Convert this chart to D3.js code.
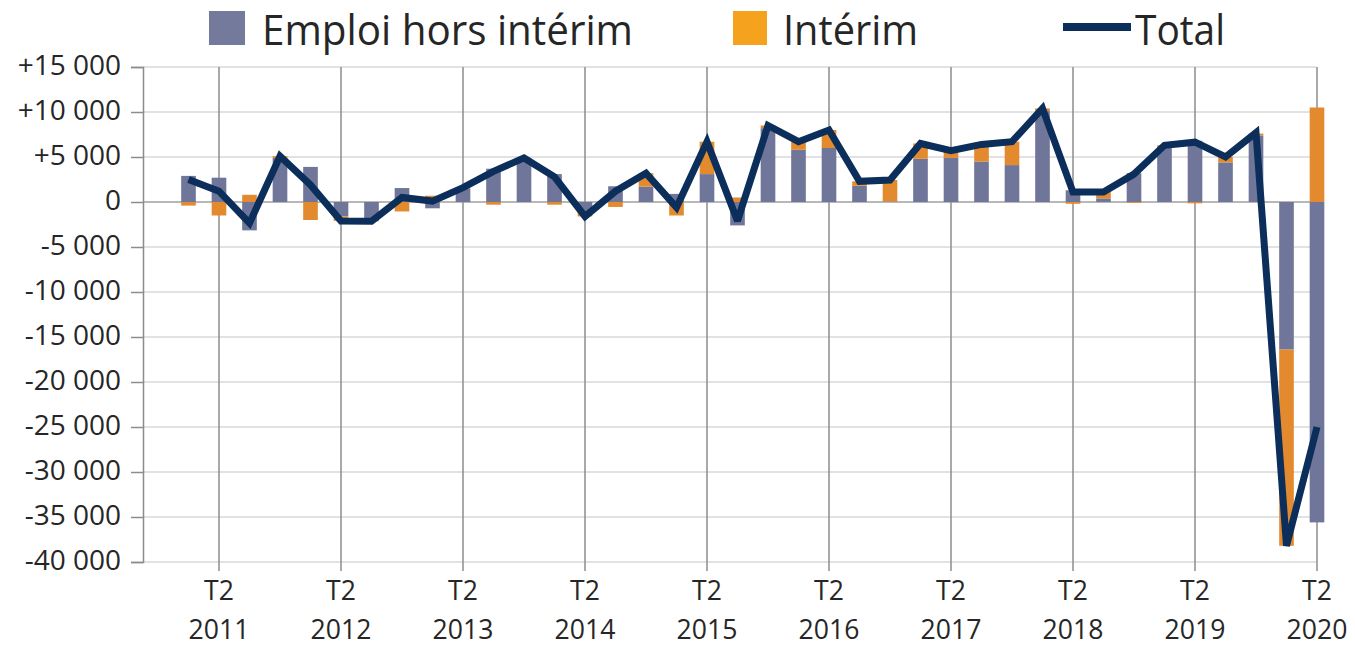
<!DOCTYPE html>
<html><head><meta charset="utf-8">
<script src="https://cdn.jsdelivr.net/npm/d3@7"></script>
<style>
html,body{margin:0;padding:0;background:#fff;}
svg text{font-family:"Open Sans",sans-serif;fill:#262626;}
</style></head>
<body><svg id="c" width="1355" height="647"></svg>
<script>
const quarters = ["2011 T1","2011 T2","2011 T3","2011 T4","2012 T1","2012 T2","2012 T3","2012 T4",
"2013 T1","2013 T2","2013 T3","2013 T4","2014 T1","2014 T2","2014 T3","2014 T4",
"2015 T1","2015 T2","2015 T3","2015 T4","2016 T1","2016 T2","2016 T3","2016 T4",
"2017 T1","2017 T2","2017 T3","2017 T4","2018 T1","2018 T2","2018 T3","2018 T4",
"2019 T1","2019 T2","2019 T3","2019 T4","2020 T1","2020 T2"];
const horsInterim = [2900,2700,-3150,4900,3900,-1600,-2000,1550,-700,1500,3700,4900,3100,-1000,1750,1700,900,3100,-2600,8200,5800,6000,1800,50,4800,4900,4500,4100,10100,1300,400,3200,6100,6800,4400,7400,-16400,-35600];
const interim = [-400,-1500,800,200,-2000,-500,-150,-1050,700,100,-300,0,-300,-600,-550,1500,-1500,3600,500,300,900,2000,500,2400,1700,800,1900,2600,300,-200,700,-100,200,-150,600,200,-21800,10500];
const total = [2500,1200,-2350,5100,1900,-2100,-2150,500,100,1600,3400,4900,2800,-1600,1200,3200,-600,6700,-2100,8500,6700,8000,2300,2450,6500,5700,6400,6700,10400,1100,1100,3100,6300,6650,5000,7700,-38200,-25000];
const yTicks = [15000,10000,5000,0,-5000,-10000,-15000,-20000,-25000,-30000,-35000,-40000];
const yTickLabels = ["+15 000","+10 000","+5 000","0","-5 000","-10 000","-15 000","-20 000","-25 000","-30 000","-35 000","-40 000"];
const xTickQuarters = ["2011 T2","2012 T2","2013 T2","2014 T2","2015 T2","2016 T2","2017 T2","2018 T2","2019 T2","2020 T2"];
const seriesNames = ["Emploi hors intérim","Intérim","Total"];

const svg = d3.select("#c");
const pLeft = 143, pRight = 1316.5, pTop = 67, pBottom = 562;
const step = 30.5;
const x = d3.scaleBand().domain(quarters).range([188.5 - step/2, 188.5 - step/2 + step*38])
  .paddingInner(0.52).paddingOuter(0.26);
const xc = q => x(q) + x.bandwidth()/2;
const y = d3.scaleLinear().domain([-40000, 15000]).range([pBottom, pTop]);

// horizontal gridlines
svg.append("g").selectAll("line").data(yTicks).join("line")
  .attr("x1", pLeft).attr("x2", pRight)
  .attr("y1", d => y(d)).attr("y2", d => y(d))
  .attr("stroke", d => d === 0 ? "#a0a0a0" : "#d9d9d9").attr("stroke-width", 1.5);

// vertical gridlines at T2
svg.append("g").selectAll("line").data(xTickQuarters).join("line")
  .attr("x1", d => xc(d)).attr("x2", d => xc(d))
  .attr("y1", pTop).attr("y2", pBottom + 9)
  .attr("stroke", "#8c8c8c").attr("stroke-width", 1.5);

// y axis
const yAxis = d3.axisLeft(y).tickValues(yTicks).tickSize(12).tickPadding(10)
  .tickFormat((d,i) => yTickLabels[i]);
const ga = svg.append("g").attr("transform", `translate(${pLeft},0)`).call(yAxis);
ga.select(".domain").attr("stroke", "#8c8c8c").attr("stroke-width", 1.5);
ga.selectAll(".tick line").attr("stroke", "#8c8c8c").attr("stroke-width", 1.5);
ga.selectAll(".tick text").attr("font-size", 28).attr("font-family", "Open Sans").attr("fill", "#262626").attr("dy", "0.28em");

// stacked bars
const rows = quarters.map((q,i) => ({q, a: horsInterim[i], b: interim[i]}));
const stack = d3.stack().keys(["a","b"]).offset(d3.stackOffsetDiverging);
const layers = stack(rows);
const colors = ["#6f7699", "#e38a2f"];
svg.append("g").selectAll("g").data(layers).join("g")
  .attr("fill", (d,i) => colors[i])
  .selectAll("rect").data(d => d).join("rect")
  .attr("x", d => x(d.data.q)).attr("width", x.bandwidth())
  .attr("y", d => y(Math.max(d[0], d[1])))
  .attr("height", d => Math.abs(y(d[0]) - y(d[1])));

// total line
const line = d3.line().x((d,i) => xc(quarters[i])).y(d => y(d));
svg.append("path").datum(total).attr("d", line)
  .attr("fill", "none").attr("stroke", "#0b2e5b").attr("stroke-width", 7)
  .attr("stroke-linejoin", "miter").attr("stroke-miterlimit", 3);

// x labels
const xl = svg.append("g");
xTickQuarters.forEach(q => {
  const [yr, t] = q.split(" ");
  const cx = xc(q);
  xl.append("text").attr("transform", `translate(${cx},600) scale(0.95,1)`).attr("text-anchor", "middle").attr("font-size", 28).text(t);
  xl.append("text").attr("transform", `translate(${cx},638.5) scale(0.95,1)`).attr("text-anchor", "middle").attr("font-size", 28).text(yr);
});

// legend
const lg = svg.append("g");
lg.append("rect").attr("x", 209).attr("y", 11).attr("width", 36).attr("height", 34).attr("fill", "#737a9c");
lg.append("text").attr("x", 262).attr("y", 45).attr("font-size", 42).attr("textLength", 371).attr("lengthAdjust", "spacingAndGlyphs").text(seriesNames[0]);
lg.append("rect").attr("x", 733).attr("y", 11).attr("width", 34).attr("height", 34).attr("fill", "#f5a31e");
lg.append("text").attr("x", 783).attr("y", 45).attr("font-size", 42).attr("textLength", 135).attr("lengthAdjust", "spacingAndGlyphs").text(seriesNames[1]);
lg.append("line").attr("x1", 1063).attr("x2", 1131).attr("y1", 27).attr("y2", 27).attr("stroke", "#0b2e5b").attr("stroke-width", 8);
lg.append("text").attr("x", 1135).attr("y", 45).attr("font-size", 42).attr("textLength", 90).attr("lengthAdjust", "spacingAndGlyphs").text(seriesNames[2]);
</script></body></html>
